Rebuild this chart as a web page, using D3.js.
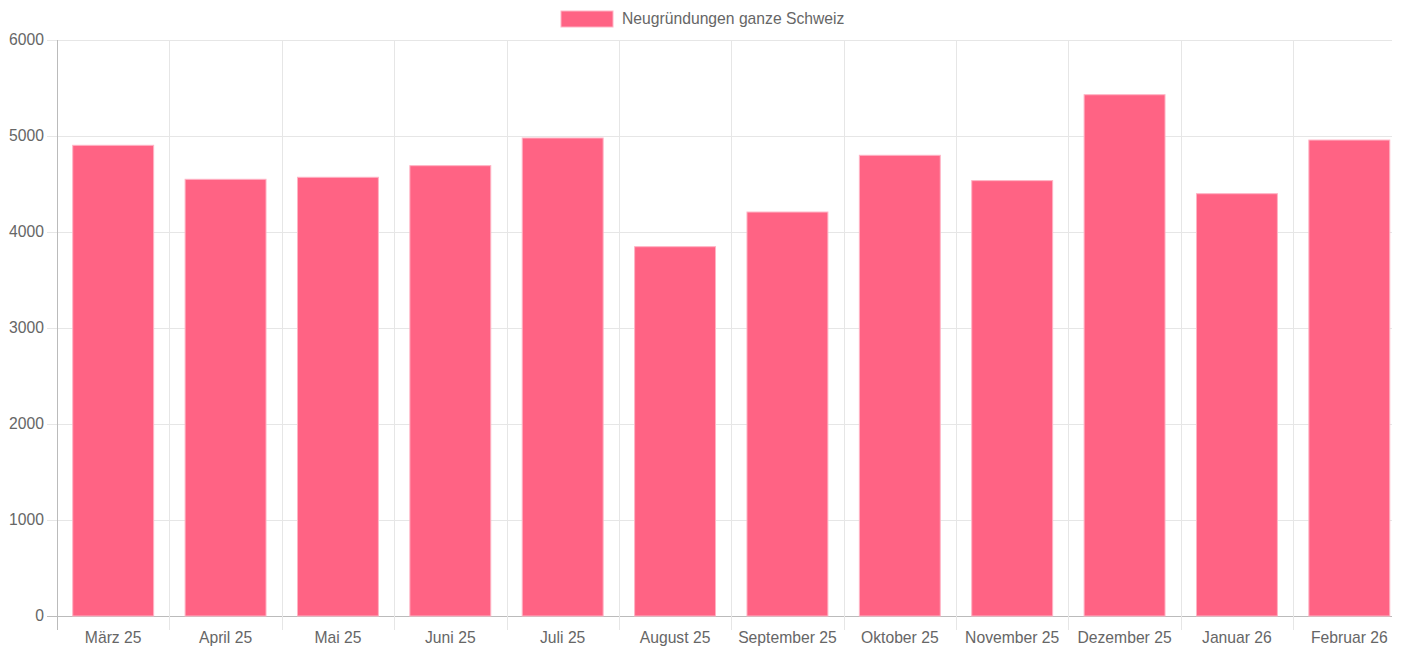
<!DOCTYPE html>
<html>
<head>
<meta charset="utf-8">
<script src="https://cdn.jsdelivr.net/npm/d3@7"></script>
<style>
  html, body { margin: 0; padding: 0; background: #fff; overflow: hidden; }
  svg text { font-family: "Liberation Sans", Arial, Helvetica, sans-serif; fill: #666; }
</style>
</head>
<body>
<svg id="chart" width="1401" height="646"></svg>
<script>
// Daten
const months = ["März 25", "April 25", "Mai 25", "Juni 25", "Juli 25", "August 25",
  "September 25", "Oktober 25", "November 25", "Dezember 25", "Januar 26", "Februar 26"];
const neugruendungen = [4903, 4549, 4570, 4691, 4979, 3847, 4208, 4799, 4535, 5430, 4399, 4958];
const yTicks = [0, 1000, 2000, 3000, 4000, 5000, 6000];
const seriesName = "Neugründungen ganze Schweiz";

const svg = d3.select("#chart");
const plotLeft = 57, plotRight = 1405.5, plotTop = 40, plotBottom = 616;
const gridRight = 1392;
const fontSize = 15.7;

const x = d3.scaleBand().domain(months).range([plotLeft, plotRight]).paddingInner(0).paddingOuter(0);
const y = d3.scaleLinear().domain([0, 6000]).range([plotBottom, plotTop]);

// Gitter
const grid = svg.append("g");
grid.selectAll("line.h")
  .data(yTicks)
  .enter().append("line")
  .attr("x1", plotLeft - 10).attr("x2", gridRight)
  .attr("y1", d => y(d) + 0.5).attr("y2", d => y(d) + 0.5)
  .attr("stroke", d => d === 0 ? "#bbb" : "#e6e6e6")
  .attr("stroke-width", 1);

grid.selectAll("line.v")
  .data(months)
  .enter().append("line")
  .attr("x1", d => Math.round(x(d)) + 0.5).attr("x2", d => Math.round(x(d)) + 0.5)
  .attr("y1", plotTop).attr("y2", plotBottom + 14)
  .attr("stroke", (d, i) => i === 0 ? "#bbb" : "#e6e6e6")
  .attr("stroke-width", 1);

// Balken
const barW = x.bandwidth() * 0.72;
svg.selectAll("rect.bar")
  .data(neugruendungen)
  .enter().append("rect")
  .attr("class", "bar")
  .attr("x", (d, i) => x(months[i]) + (x.bandwidth() - barW) / 2)
  .attr("y", d => y(d))
  .attr("width", barW)
  .attr("height", d => y(0) - y(d))
  .attr("fill", "#ff6384")
  .attr("stroke", "#ffb3c4")
  .attr("stroke-width", 1);

// Y-Achse Beschriftung
svg.selectAll("text.y")
  .data(yTicks)
  .enter().append("text")
  .attr("x", 44)
  .attr("y", d => y(d))
  .attr("dy", "0.35em")
  .attr("text-anchor", "end")
  .attr("font-size", fontSize)
  .text(d => d);

// X-Achse Beschriftung
svg.selectAll("text.x")
  .data(months)
  .enter().append("text")
  .attr("x", d => x(d) + x.bandwidth() / 2)
  .attr("y", 637.5)
  .attr("dy", "0.35em")
  .attr("text-anchor", "middle")
  .attr("font-size", fontSize)
  .text(d => d);

// Legende
svg.append("rect")
  .attr("x", 561).attr("y", 11)
  .attr("width", 52).attr("height", 16)
  .attr("fill", "#ff6384")
  .attr("stroke", "#ffb3c4");
svg.append("text")
  .attr("x", 622).attr("y", 19)
  .attr("dy", "0.35em")
  .attr("font-size", fontSize)
  .text(seriesName);
</script>
</body>
</html>
